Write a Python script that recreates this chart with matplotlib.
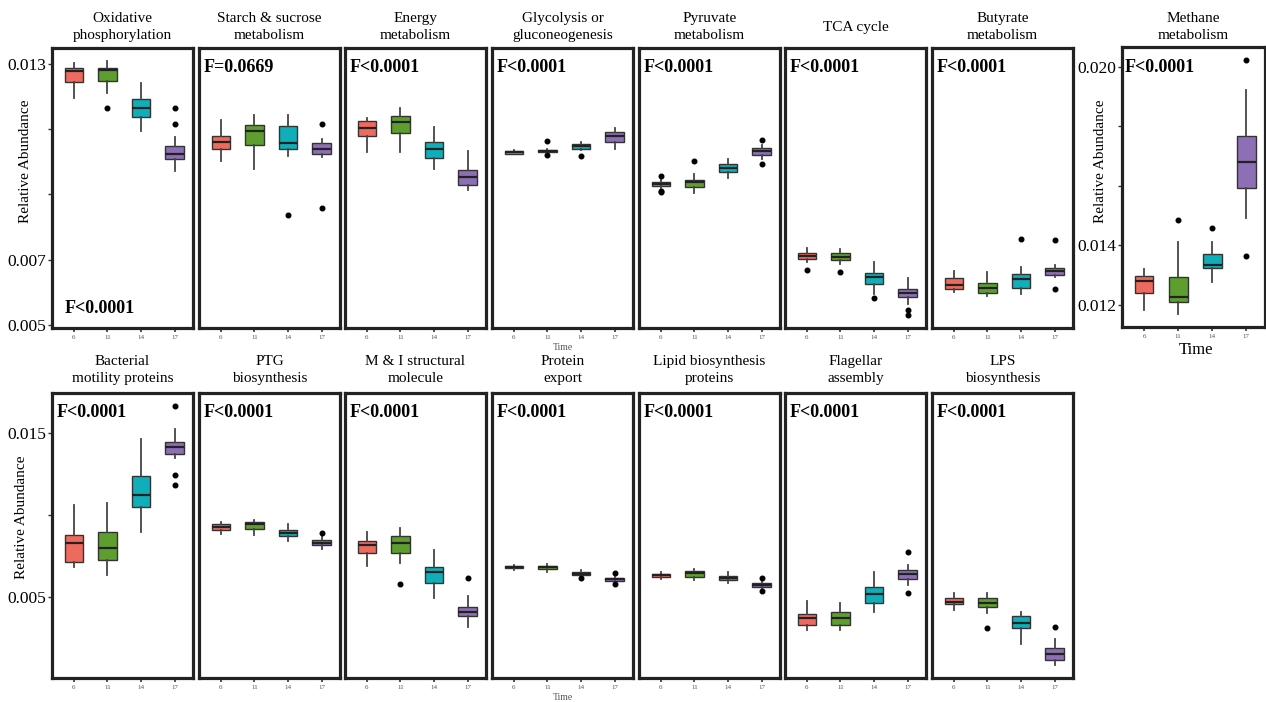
import matplotlib
matplotlib.use('Agg')
import matplotlib.pyplot as plt

plt.rcParams['font.family'] = ['Liberation Serif', 'DejaVu Serif']

times = ['6', '11', '14', '17']
colors = ['#EE6A5E', '#5E9E2E', '#10AEB8', '#8C6FB5']

# box stats per time point: [whisker low, q1, median, q3, whisker high]
oxphos = [[0.01195, 0.01246, 0.01277, 0.01287, 0.01302],
          [0.01212, 0.01248, 0.01280, 0.01289, 0.01309],
          [0.01095, 0.01136, 0.01165, 0.01192, 0.01241],
          [0.00973, 0.01009, 0.01025, 0.01047, 0.01076]]
oxphos_out = [[], [0.01165], [], [0.01116, 0.01166]]

starch = [[0.01001, 0.01040, 0.01062, 0.01078, 0.01127],
          [0.00979, 0.01052, 0.01095, 0.01113, 0.01142],
          [0.01017, 0.01040, 0.01059, 0.01111, 0.01142],
          [0.01014, 0.01025, 0.01040, 0.01059, 0.01070]]
starch_out = [[], [], [0.00838], [0.01117, 0.00857]]

energy = [[0.01030, 0.01078, 0.01105, 0.01124, 0.01134],
          [0.01030, 0.01088, 0.01122, 0.01141, 0.01166],
          [0.00979, 0.01012, 0.01040, 0.01062, 0.01108],
          [0.00913, 0.00928, 0.00954, 0.00974, 0.01032]]
energy_out = [[], [], [], []]

glyco = [[0.01023, 0.01025, 0.01029, 0.01032, 0.01035],
         [0.01028, 0.01030, 0.01034, 0.01036, 0.01040],
         [0.01037, 0.01040, 0.01049, 0.01055, 0.01062],
         [0.01040, 0.01062, 0.01078, 0.01091, 0.01103]]
glyco_out = [[], [0.01065, 0.01022], [0.01017], []]

pyruvate = [[0.00920, 0.00927, 0.00932, 0.00937, 0.00945],
            [0.00905, 0.00923, 0.00937, 0.00945, 0.00961],
            [0.00951, 0.00968, 0.00981, 0.00993, 0.01009],
            [0.01009, 0.01022, 0.01032, 0.01042, 0.01052]]
pyruvate_out = [[0.00955, 0.00910, 0.00906], [0.01001], [], [0.01068, 0.00994]]

tca = [[0.00691, 0.00701, 0.00711, 0.00721, 0.00736],
       [0.00685, 0.00699, 0.00709, 0.00719, 0.00733],
       [0.00594, 0.00626, 0.00645, 0.00660, 0.00691],
       [0.00563, 0.00584, 0.00597, 0.00611, 0.00642]]
tca_out = [[0.00668], [0.00663], [0.00581], [0.00546, 0.00530]]

butyrate = [[0.00599, 0.00609, 0.00621, 0.00643, 0.00665],
            [0.00587, 0.00597, 0.00614, 0.00627, 0.00662],
            [0.00594, 0.00614, 0.00639, 0.00655, 0.00677],
            [0.00645, 0.00653, 0.00665, 0.00673, 0.00683]]
butyrate_out = [[], [], [0.00764], [0.00760, 0.00611]]

methane = [[0.01183, 0.01241, 0.01280, 0.01299, 0.01322],
           [0.01171, 0.01210, 0.01227, 0.01295, 0.01412],
           [0.01277, 0.01325, 0.01336, 0.01372, 0.01412],
           [0.01493, 0.01593, 0.01681, 0.01769, 0.01924]]
methane_out = [[], [0.01487], [0.01460], [0.02024, 0.01364]]

motility = [[0.00685, 0.00715, 0.00831, 0.00878, 0.01061],
            [0.00634, 0.00726, 0.00801, 0.00895, 0.01071],
            [0.00898, 0.01047, 0.01122, 0.01240, 0.01462],
            [0.01346, 0.01370, 0.01413, 0.01447, 0.01524]]
motility_out = [[], [], [], [0.01667, 0.01244, 0.01183]]

ptg = [[0.00882, 0.00909, 0.00929, 0.00945, 0.00959],
       [0.00878, 0.00915, 0.00943, 0.00956, 0.00970],
       [0.00843, 0.00874, 0.00892, 0.00909, 0.00945],
       [0.00793, 0.00817, 0.00831, 0.00848, 0.00872]]
ptg_out = [[], [], [], [0.00892]]

mi = [[0.00689, 0.00767, 0.00817, 0.00842, 0.00898],
      [0.00709, 0.00767, 0.00831, 0.00872, 0.00923],
      [0.00496, 0.00587, 0.00654, 0.00685, 0.00787],
      [0.00319, 0.00384, 0.00410, 0.00441, 0.00508]]
mi_out = [[], [0.00577], [], [0.00614]]

export = [[0.00665, 0.00675, 0.00683, 0.00689, 0.00695],
          [0.00654, 0.00671, 0.00681, 0.00691, 0.00701],
          [0.00624, 0.00634, 0.00642, 0.00651, 0.00665],
          [0.00593, 0.00599, 0.00608, 0.00614, 0.00624]]
export_out = [[], [], [0.00614], [0.00645, 0.00577]]

lipid = [[0.00608, 0.00620, 0.00632, 0.00640, 0.00654],
         [0.00604, 0.00624, 0.00645, 0.00659, 0.00671],
         [0.00587, 0.00604, 0.00618, 0.00630, 0.00651],
         [0.00557, 0.00563, 0.00573, 0.00584, 0.00593]]
lipid_out = [[], [], [], [0.00618, 0.00537]]

flagellar = [[0.00299, 0.00329, 0.00374, 0.00395, 0.00477],
             [0.00299, 0.00329, 0.00374, 0.00410, 0.00465],
             [0.00410, 0.00465, 0.00517, 0.00559, 0.00654],
             [0.00573, 0.00610, 0.00638, 0.00665, 0.00695]]
flagellar_out = [[], [], [], [0.00773, 0.00526]]

lps = [[0.00421, 0.00456, 0.00471, 0.00492, 0.00523],
       [0.00401, 0.00437, 0.00462, 0.00492, 0.00526],
       [0.00213, 0.00309, 0.00343, 0.00386, 0.00410],
       [0.00085, 0.00116, 0.00151, 0.00191, 0.00242]]
lps_out = [[], [0.00309], [], [0.00319]]

top_titles = ['Oxidative\nphosphorylation', 'Starch & sucrose\nmetabolism', 'Energy\nmetabolism',
              'Glycolysis or\ngluconeogenesis', 'Pyruvate\nmetabolism', 'TCA cycle',
              'Butyrate\nmetabolism']
top_f = ['F<0.0001', 'F=0.0669', 'F<0.0001', 'F<0.0001', 'F<0.0001', 'F<0.0001', 'F<0.0001']
top_data = [(oxphos, oxphos_out), (starch, starch_out), (energy, energy_out), (glyco, glyco_out),
            (pyruvate, pyruvate_out), (tca, tca_out), (butyrate, butyrate_out)]

bot_titles = ['Bacterial\nmotility proteins', 'PTG\nbiosynthesis', 'M & I structural\nmolecule',
              'Protein\nexport', 'Lipid biosynthesis\nproteins', 'Flagellar\nassembly',
              'LPS\nbiosynthesis']
bot_data = [(motility, motility_out), (ptg, ptg_out), (mi, mi_out), (export, export_out),
            (lipid, lipid_out), (flagellar, flagellar_out), (lps, lps_out)]

W, H = 1266, 702
fig = plt.figure(figsize=(W / 100, H / 100), dpi=100)
fig.patch.set_facecolor('white')

lefts = [52, 199, 345, 492, 639, 785, 932]
pw = 141


def px(x, y):
    return x / W, 1 - y / H


def panel(x0, y0, x1, y1):
    return fig.add_axes([x0 / W, 1 - y1 / H, (x1 - x0) / W, (y1 - y0) / H])


def draw(ax, stats, out, ylim):
    bx = [dict(whislo=s[0], q1=s[1], med=s[2], q3=s[3], whishi=s[4], fliers=f)
          for s, f in zip(stats, out)]
    art = ax.bxp(bx, positions=[1, 2, 3, 4], widths=0.55, patch_artist=True, showcaps=False,
                 boxprops=dict(edgecolor='#333333', linewidth=1.0),
                 medianprops=dict(color='#222222', linewidth=1.6),
                 whiskerprops=dict(color='#444444', linewidth=1.3),
                 flierprops=dict(marker='o', markersize=3.3, markerfacecolor='black',
                                 markeredgecolor='black'))
    for p, c in zip(art['boxes'], colors):
        p.set_facecolor(c)
    ax.set_xlim(0.35, 4.55)
    ax.set_ylim(*ylim)
    ax.set_xticks([1, 2, 3, 4], times)
    ax.tick_params(axis='x', labelsize=5, labelcolor='#555555', length=3, width=1.2,
                   pad=2, color='#333333')
    ax.set_yticks([])
    for s in ax.spines.values():
        s.set_linewidth(2.3)
        s.set_color('#222222')


def yaxis(ax, ticks, labels):
    ax.set_yticks(ticks, labels)
    ax.tick_params(axis='y', labelsize=12.5, length=3, width=1.0, pad=1, color='#333333')


top_ylim = (0.00490, 0.01349)
bot_ylim = (0.00006, 0.01744)

# top row
for i, (x0, title, fl, (st, out)) in enumerate(zip(lefts, top_titles, top_f, top_data)):
    ax = panel(x0, 48, x0 + pw, 328)
    draw(ax, st, out, top_ylim)
    fig.text(*px(x0 + pw / 2, 27), title, ha='center', va='center', fontsize=11, linespacing=1.4)
    if i == 0:
        yaxis(ax, [0.005, 0.007, 0.009, 0.011, 0.013], ['0.005', '0.007', '', '', '0.013'])
        ax.text(0.09, 0.07, fl, transform=ax.transAxes, ha='left', va='center',
                fontsize=13, fontweight='bold')
    else:
        ax.text(0.035, 0.932, fl, transform=ax.transAxes, ha='left', va='center',
                fontsize=13, fontweight='bold')

# methane panel
ax = panel(1122, 47, 1265, 327)
draw(ax, methane, methane_out, (0.01126, 0.02067))
yaxis(ax, [0.012, 0.014, 0.016, 0.018, 0.020], ['0.012', '0.014', '', '', '0.020'])
ax.text(0.02, 0.928, 'F<0.0001', transform=ax.transAxes, ha='left', va='center',
        fontsize=13, fontweight='bold')
fig.text(*px(1193, 27), 'Methane\nmetabolism', ha='center', va='center', fontsize=11,
         linespacing=1.4)
fig.text(*px(1196, 350), 'Time', ha='center', va='center', fontsize=12)
fig.text(*px(1100, 161), 'Relative Abundance', ha='center', va='center', rotation=90,
         fontsize=11)

# bottom row
for i, (x0, title, (st, out)) in enumerate(zip(lefts, bot_titles, bot_data)):
    ax = panel(x0, 393, x0 + pw, 678)
    draw(ax, st, out, bot_ylim)
    fig.text(*px(x0 + pw / 2, 370), title, ha='center', va='center', fontsize=11, linespacing=1.4)
    ax.text(0.03 if i == 0 else 0.035, 0.93, 'F<0.0001', transform=ax.transAxes, ha='left',
            va='center', fontsize=13, fontweight='bold')
    if i == 0:
        yaxis(ax, [0.005, 0.010, 0.015], ['0.005', '', '0.015'])

fig.text(*px(26, 161), 'Relative Abundance', ha='center', va='center', rotation=90, fontsize=11)
fig.text(*px(22, 517), 'Relative Abundance', ha='center', va='center', rotation=90, fontsize=11)
fig.text(*px(563, 347), 'Time', ha='center', va='center', fontsize=7, color='#555555')
fig.text(*px(563, 698), 'Time', ha='center', va='center', fontsize=7, color='#555555')

fig.savefig('out.png', dpi=100, facecolor='white')
